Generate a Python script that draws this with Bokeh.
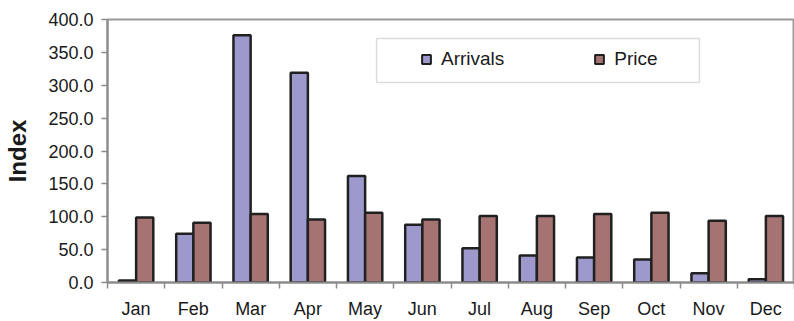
import numpy as np
from bokeh.plotting import figure
from bokeh.models import (ColumnDataSource, FixedTicker, NumeralTickFormatter,
                          Range1d, Legend, LegendItem, BoxAnnotation)
from bokeh.transform import dodge
from bokeh.embed import file_html
from bokeh.resources import INLINE

months = ["Jan", "Feb", "Mar", "Apr", "May", "Jun",
          "Jul", "Aug", "Sep", "Oct", "Nov", "Dec"]
arrivals = [3, 74, 376, 319, 162, 88, 52, 41, 38, 35, 14, 5]
price = [99, 91, 104, 96, 106, 96, 101, 101, 104, 106, 94, 101]
y_ticks = [0, 50, 100, 150, 200, 250, 300, 350, 400]

FONT = "Liberation Sans"
C_ARR = "#9d99cc"
C_PRICE = "#a67373"
C_EDGE = "#202020"

x_centers = np.arange(len(months)) + 0.5
src = ColumnDataSource(dict(x=x_centers, arrivals=arrivals, price=price))

p = figure(width=794, height=321, output_backend="svg", toolbar_location=None,
           x_range=Range1d(0, len(months)), y_range=Range1d(0, 400),
           min_border_left=107, min_border_right=0, min_border_top=19,
           min_border_bottom=39)
p.background_fill_color = "white"
p.border_fill_color = "white"
p.outline_line_color = "#9a9a9a"
p.outline_line_width = 2
p.xgrid.visible = False
p.ygrid.visible = False

p.vbar(x=dodge("x", -0.15, range=p.x_range), top="arrivals", width=0.3,
       source=src, fill_color=C_ARR, line_color=C_EDGE, line_width=2.5)
p.vbar(x=dodge("x", 0.15, range=p.x_range), top="price", width=0.3,
       source=src, fill_color=C_PRICE, line_color=C_EDGE, line_width=2.5)

# legend proxies (square swatches, not drawn in the plot area)
lg1 = p.scatter(x=[np.nan], y=[np.nan], marker="square", size=9,
                fill_color=C_ARR, line_color=C_EDGE, line_width=2)
lg2 = p.scatter(x=[np.nan], y=[np.nan], marker="square", size=9,
                fill_color=C_PRICE, line_color=C_EDGE, line_width=2)

# y axis
p.yaxis.ticker = FixedTicker(ticks=y_ticks)
p.yaxis.formatter = NumeralTickFormatter(format="0.0")
p.yaxis.axis_label = "Index"
p.yaxis.axis_label_text_font = FONT
p.yaxis.axis_label_text_font_size = "24px"
p.yaxis.axis_label_text_font_style = "bold"
p.yaxis.axis_label_text_color = "#1a1a1a"
p.yaxis.axis_label_standoff = 14
p.yaxis.major_label_text_font = FONT
p.yaxis.major_label_text_font_size = "18px"
p.yaxis.major_label_text_color = "#1a1a1a"
p.yaxis.major_tick_out = 6
p.yaxis.major_tick_in = 0
p.yaxis.minor_tick_out = 0
p.yaxis.major_label_standoff = 8
p.yaxis.axis_line_color = "#8a8a8a"
p.yaxis.axis_line_width = 2
p.yaxis.major_tick_line_color = "#8a8a8a"
p.yaxis.major_tick_line_width = 1.5

# x axis: labels at centers, tick marks at boundaries
p.xaxis.ticker = FixedTicker(ticks=list(x_centers),
                             minor_ticks=list(range(len(months) + 1)))
p.xaxis.major_label_overrides = {float(c): m for c, m in zip(x_centers, months)}
p.xaxis.major_tick_out = 0
p.xaxis.major_tick_in = 0
p.xaxis.minor_tick_out = 6
p.xaxis.minor_tick_in = 0
p.xaxis.minor_tick_line_color = "#8a8a8a"
p.xaxis.minor_tick_line_width = 1.5
p.xaxis.axis_line_color = "#8a8a8a"
p.xaxis.axis_line_width = 2
p.xaxis.major_label_standoff = 10
p.xaxis.major_label_text_line_height = 1.0
p.xaxis.major_label_text_font = FONT
p.xaxis.major_label_text_font_size = "18px"
p.xaxis.major_label_text_color = "#1a1a1a"

# legend frame
box = BoxAnnotation(left=4.70, right=10.34, bottom=304.2, top=371.1,
                    fill_color="white", fill_alpha=1.0,
                    line_color="#8a8a8a", line_width=1.5)
p.add_layout(box)

legend = Legend(items=[LegendItem(label="Arrivals", renderers=[lg1]),
                       LegendItem(label="Price", renderers=[lg2])],
                orientation="horizontal", location=(308, 212),
                padding=0, margin=0, spacing=84, label_standoff=4,
                glyph_width=22, glyph_height=22,
                border_line_color=None, background_fill_alpha=0,
                label_text_font=FONT, label_text_font_size="19px",
                label_text_color="#1a1a1a")
p.add_layout(legend)

open("out.html", "w").write(file_html(p, INLINE))
